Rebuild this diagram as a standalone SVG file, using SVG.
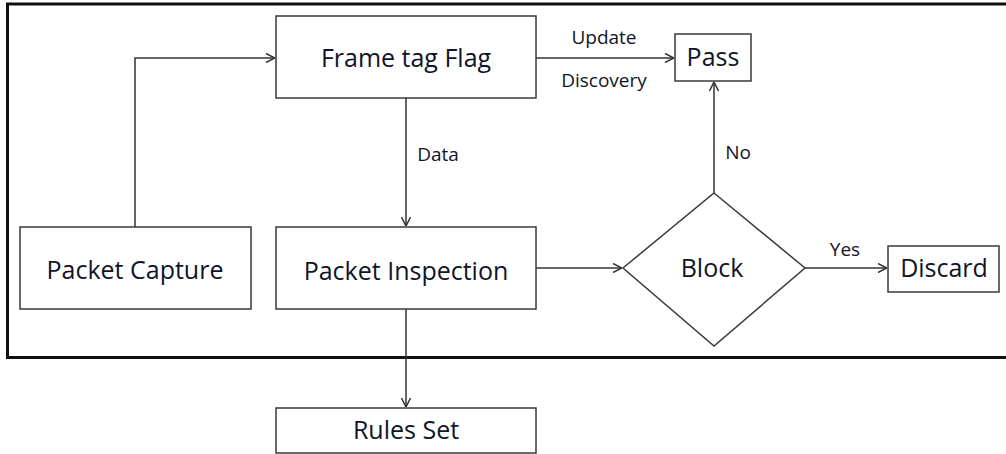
<svg xmlns="http://www.w3.org/2000/svg" width="1006" height="454" viewBox="0 0 1006 454">
  <style>
    .box { fill: #ffffff; stroke: #3a3a3a; stroke-width: 1.5; }
    .wire { fill: none; stroke: #333333; stroke-width: 1.5; }
    .frame { fill: none; stroke: #111111; stroke-width: 3; }
    .lbl { font-family: "Open Sans", "Liberation Sans", sans-serif; fill: #101428; text-anchor: middle; }
    .big { font-size: 25px; }
    .small { font-size: 19px; }
  </style>
  <defs>
    <marker id="open-arrow" viewBox="0 0 10 10" refX="10" refY="5" markerWidth="10" markerHeight="10" markerUnits="userSpaceOnUse" orient="auto">
      <polyline points="1,0.5 10,5 1,9.5" fill="none" stroke="#333333" stroke-width="1.5"/>
    </marker>
  </defs>

  <rect width="1006" height="454" fill="#ffffff"/>

  <!-- outer boundary (open on the right) -->
  <path class="frame" d="M1006,4 H7.5 V357.5 H1006"/>

  <g id="connectors">
    <path class="wire" d="M135,227 V58 H275" marker-end="url(#open-arrow)"/>
    <path class="wire" d="M406,98 V226" marker-end="url(#open-arrow)"/>
    <path class="wire" d="M536,58 H674" marker-end="url(#open-arrow)"/>
    <path class="wire" d="M714,193 V82" marker-end="url(#open-arrow)"/>
    <path class="wire" d="M536,268 H622" marker-end="url(#open-arrow)"/>
    <path class="wire" d="M805,268 H887" marker-end="url(#open-arrow)"/>
    <path class="wire" d="M406,309 V407" marker-end="url(#open-arrow)"/>
    <text class="lbl small" x="604" y="44">Update</text>
    <text class="lbl small" x="604" y="87">Discovery</text>
    <text class="lbl small" x="438" y="161">Data</text>
    <text class="lbl small" x="738" y="159">No</text>
    <text class="lbl small" x="845" y="256">Yes</text>
  </g>

  <g id="frame-tag-flag">
    <rect class="box" x="276" y="16" width="260" height="82"/>
    <text class="lbl big" x="406" y="67">Frame tag Flag</text>
  </g>

  <g id="pass">
    <rect class="box" x="675" y="34" width="76" height="47"/>
    <text class="lbl big" x="713" y="66">Pass</text>
  </g>

  <g id="packet-capture">
    <rect class="box" x="20" y="227" width="231" height="82"/>
    <text class="lbl big" x="135" y="279">Packet Capture</text>
  </g>

  <g id="packet-inspection">
    <rect class="box" x="276" y="227" width="260" height="82"/>
    <text class="lbl big" x="406" y="280">Packet Inspection</text>
  </g>

  <g id="block">
    <polygon class="box" points="714,193 805,268 714,346 623,268"/>
    <text class="lbl big" x="712" y="277">Block</text>
  </g>

  <g id="discard">
    <rect class="box" x="888" y="246" width="111" height="46"/>
    <text class="lbl big" x="944" y="277">Discard</text>
  </g>

  <g id="rules-set">
    <rect class="box" x="276" y="408" width="260" height="45"/>
    <text class="lbl big" x="406" y="439">Rules Set</text>
  </g>
</svg>
